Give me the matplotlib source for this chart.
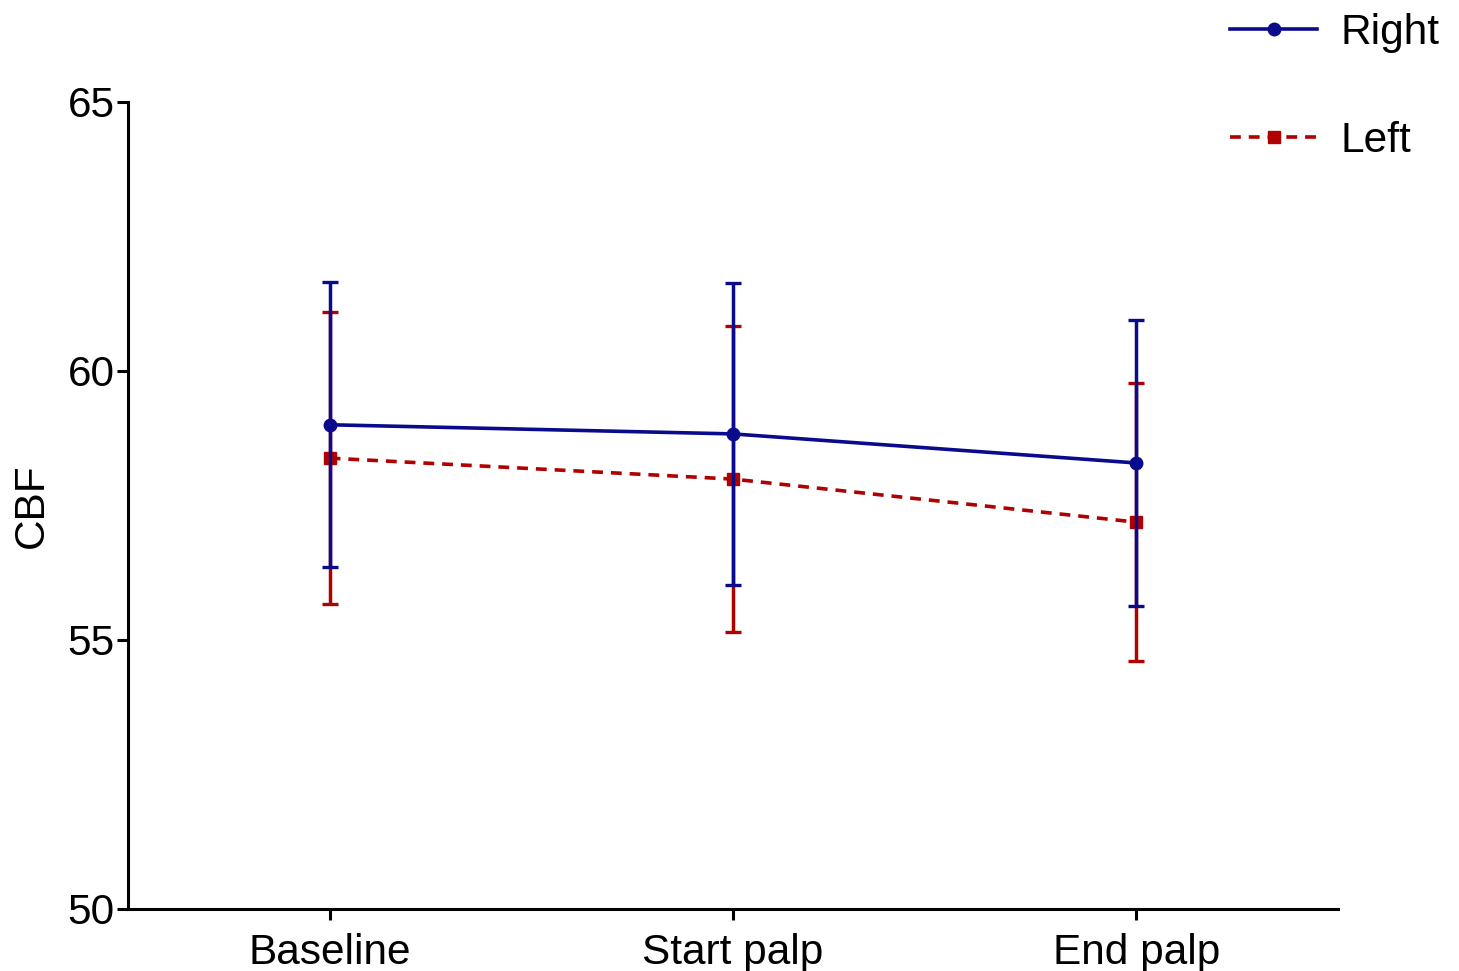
import matplotlib
matplotlib.use("Agg")
import matplotlib.pyplot as plt
from matplotlib.lines import Line2D

plt.rcParams['font.family'] = ['Liberation Sans', 'DejaVu Sans']

categories = ["Baseline", "Start palp", "End palp"]
right_mean = [59.0, 58.83, 58.29]
right_err = [2.65, 2.8, 2.65]
left_mean = [58.38, 57.99, 57.19]
left_err = [2.72, 2.85, 2.58]
yticks = [50, 55, 60, 65]

blue = "#0A0A8C"
red = "#B00000"

fig = plt.figure(figsize=(14.59, 9.71), dpi=100)
ax = fig.add_axes([0.0877, 0.0639, 0.8293, 0.8311])
x = list(range(len(categories)))

ax.errorbar(x, left_mean, yerr=left_err, color=red, lw=2.6, ls=(0, (3, 2.2)),
            marker='s', ms=9, capsize=6, capthick=2.4, elinewidth=2.5, zorder=2)
ax.errorbar(x, right_mean, yerr=right_err, color=blue, lw=2.6, ls='-',
            marker='o', ms=9, capsize=6, capthick=2.4, elinewidth=2.5, zorder=3)

ax.set_xlim(-0.5, 2.5)
ax.set_ylim(50, 65)
ax.set_yticks(yticks)
ax.set_xticks(x)
ax.set_xticklabels(categories)
ax.tick_params(axis='both', labelsize=30.5, width=2.2, length=8, direction='out', pad=4)
ax.tick_params(axis='x', pad=9)
ax.tick_params(axis='y', pad=1.5)
for s in ['top', 'right']:
    ax.spines[s].set_visible(False)
for s in ['left', 'bottom']:
    ax.spines[s].set_linewidth(2.2)
ax.set_ylabel("CBF", fontsize=30.5)
ax.yaxis.set_label_coords(-0.063, 0.5)

handles = [
    Line2D([], [], color=blue, lw=2.6, ls='-', marker='o', ms=9),
    Line2D([], [], color=red, lw=2.6, ls=(0, (3, 2.2)), marker='s', ms=9),
]
fig.legend(handles, ["Right", "Left"], loc='upper left', bbox_to_anchor=(0.8316, 1.004),
           frameon=False, fontsize=30.5, handlelength=2.05, labelspacing=1.6,
           handletextpad=0.55, borderaxespad=0)

fig.savefig("out.png", dpi=100)
